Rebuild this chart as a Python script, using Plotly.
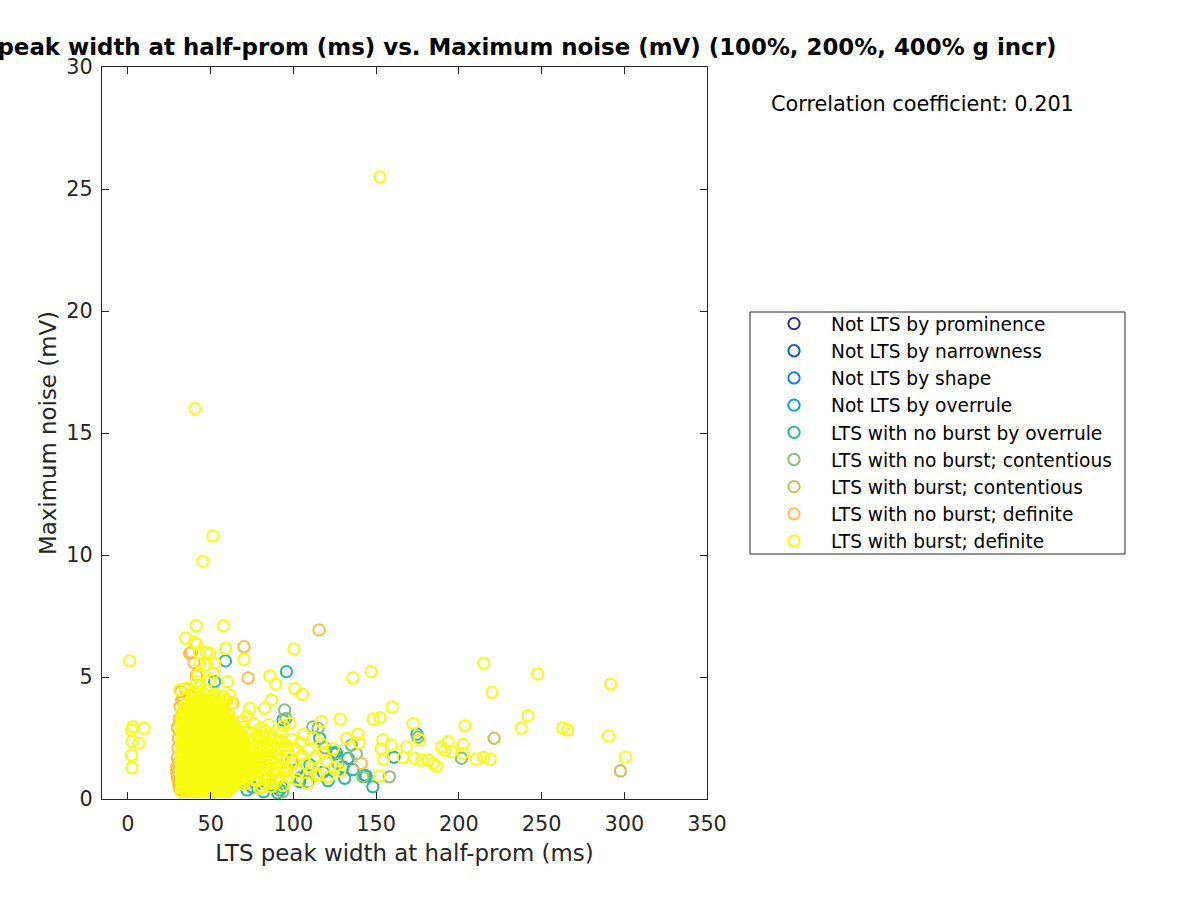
import plotly.graph_objects as go

# ---------------- data ----------------
categories = [
    "Not LTS by prominence",
    "Not LTS by narrowness",
    "Not LTS by shape",
    "Not LTS by overrule",
    "LTS with no burst by overrule",
    "LTS with no burst; contentious",
    "LTS with burst; contentious",
    "LTS with no burst; definite",
    "LTS with burst; definite",
]
colors = ["#352a87", "#0f5cdd", "#1481d6", "#06a4ca", "#2eb7a0",
          "#87bf77", "#d1bb59", "#fcbe3c", "#f9fb0e"]

# Not LTS (hidden inside the dense cluster)
x_prom = [45.0]
y_prom = [1.5]
x_narrow = [50.0]
y_narrow = [1.3]
x_shape = [42.0]
y_shape = [1.0]
x_overrule = [55.0]
y_overrule = [1.9]

# LTS with no burst by overrule
x_nb_over = [58.9, 52.4, 95.8, 93.7, 115.9, 125.0, 130.0, 143.0, 148.0, 103.8,
             91.7, 126.0, 133.0, 131.0, 144.0, 174.7, 160.8, 72.0, 75.0, 90.5,
             93.0, 102.0, 104.0, 124.0, 110.0, 118.0, 121.0, 136.0, 82.0, 86.0]
y_nb_over = [5.66, 4.81, 5.22, 3.24, 2.49, 1.84, 1.32, 0.98, 0.50, 0.71,
             0.37, 1.90, 1.67, 0.85, 0.94, 2.66, 1.71, 0.37, 0.49, 0.25,
             0.50, 1.19, 0.86, 1.89, 1.40, 1.10, 0.75, 1.20, 0.30, 0.55]

# LTS with no burst; contentious
x_nb_cont = [94.7, 114.9, 108.8, 158.0, 142.0, 135.0, 201.6, 175.3, 111.7, 95.5,
             93.5, 99.0, 119.0, 127.0, 138.0]
y_nb_cont = [3.65, 2.90, 0.71, 0.91, 0.91, 2.21, 1.67, 2.53, 2.95, 3.30,
             0.29, 1.60, 2.10, 1.45, 1.85]

# LTS with burst; contentious
x_b_cont = [221.3, 297.7]
y_b_cont = [2.49, 1.15]

# LTS with no burst; definite
x_nb_def = [38.3, 39.9, 70.1, 72.6, 115.5, 37.3, 41.3, 35.0, 37.5, 33.5,
            29.8, 29.5, 29.9, 30.2, 30.5, 30.0, 31.0, 31.5, 32.0, 30.6,
            31.5, 29.6, 30.4, 30.8, 55.5, 63.3, 67.5, 83.7, 141.0, 30.0,
            29.4, 32.5]
y_nb_def = [6.01, 5.59, 6.24, 4.96, 6.93, 5.97, 5.08, 4.50, 4.20, 4.00,
            0.90, 1.30, 1.70, 2.10, 2.50, 2.90, 3.30, 3.80, 4.40, 0.60,
            0.40, 1.05, 1.47, 0.71, 3.93, 3.93, 2.00, 0.78, 1.46, 2.95,
            1.15, 4.05]

# LTS with burst; definite -- dense core of the cluster, one row per noise level
core_levels = [0.30, 0.40, 0.50, 0.60, 0.70, 0.80, 0.90, 1.00, 1.10, 1.20,
               1.30, 1.40, 1.50, 1.60, 1.70, 1.80, 1.90, 2.00, 2.10, 2.20,
               2.30, 2.40, 2.50, 2.60, 2.70, 2.80, 2.90, 3.00, 3.10, 3.20,
               3.30, 3.40, 3.50, 3.60, 3.70, 3.80, 3.90, 4.00, 4.10, 4.30]
core_widths = [
    [32.3, 35.7, 39.1, 42.5, 45.9, 49.3, 52.7, 56.1, 59.5],
    [34.0, 37.4, 40.8, 44.2, 47.6, 51.0, 54.4, 57.8, 61.2],
    [32.3, 35.7, 39.1, 42.5, 45.9, 49.3, 52.7, 56.1, 59.5, 62.9],
    [34.0, 37.4, 40.8, 44.2, 47.6, 51.0, 54.4, 57.8, 61.2, 64.6],
    [32.3, 35.7, 39.1, 42.5, 45.9, 49.3, 52.7, 56.1, 59.5, 62.9, 66.3, 69.7],
    [34.0, 37.4, 40.8, 44.2, 47.6, 51.0, 54.4, 57.8, 61.2, 64.6, 68.0, 71.4],
    [32.3, 35.7, 39.1, 42.5, 45.9, 49.3, 52.7, 56.1, 59.5, 62.9, 66.3, 69.7, 73.1],
    [34.0, 37.4, 40.8, 44.2, 47.6, 51.0, 54.4, 57.8, 61.2, 64.6, 68.0, 71.4, 74.8],
    [32.3, 35.7, 39.1, 42.5, 45.9, 49.3, 52.7, 56.1, 59.5, 62.9, 66.3, 69.7, 73.1, 76.5],
    [34.0, 37.4, 40.8, 44.2, 47.6, 51.0, 54.4, 57.8, 61.2, 64.6, 68.0, 71.4, 74.8],
    [32.3, 35.7, 39.1, 42.5, 45.9, 49.3, 52.7, 56.1, 59.5, 62.9, 66.3, 69.7, 73.1, 76.5],
    [34.0, 37.4, 40.8, 44.2, 47.6, 51.0, 54.4, 57.8, 61.2, 64.6, 68.0, 71.4, 74.8],
    [32.3, 35.7, 39.1, 42.5, 45.9, 49.3, 52.7, 56.1, 59.5, 62.9, 66.3, 69.7, 73.1, 76.5],
    [34.0, 37.4, 40.8, 44.2, 47.6, 51.0, 54.4, 57.8, 61.2, 64.6, 68.0, 71.4, 74.8],
    [32.3, 35.7, 39.1, 42.5, 45.9, 49.3, 52.7, 56.1, 59.5, 62.9, 66.3, 69.7, 73.1],
    [34.0, 37.4, 40.8, 44.2, 47.6, 51.0, 54.4, 57.8, 61.2, 64.6, 68.0, 71.4, 74.8],
    [32.3, 35.7, 39.1, 42.5, 45.9, 49.3, 52.7, 56.1, 59.5, 62.9, 66.3, 69.7, 73.1],
    [34.0, 37.4, 40.8, 44.2, 47.6, 51.0, 54.4, 57.8, 61.2, 64.6, 68.0, 71.4],
    [32.3, 35.7, 39.1, 42.5, 45.9, 49.3, 52.7, 56.1, 59.5, 62.9, 66.3, 69.7],
    [34.0, 37.4, 40.8, 44.2, 47.6, 51.0, 54.4, 57.8, 61.2, 64.6, 68.0, 71.4],
    [32.3, 35.7, 39.1, 42.5, 45.9, 49.3, 52.7, 56.1, 59.5, 62.9, 66.3, 69.7],
    [34.0, 37.4, 40.8, 44.2, 47.6, 51.0, 54.4, 57.8, 61.2, 64.6, 68.0],
    [32.3, 35.7, 39.1, 42.5, 45.9, 49.3, 52.7, 56.1, 59.5, 62.9, 66.3],
    [34.0, 37.4, 40.8, 44.2, 47.6, 51.0, 54.4, 57.8, 61.2, 64.6, 68.0],
    [32.3, 35.7, 39.1, 42.5, 45.9, 49.3, 52.7, 56.1, 59.5, 62.9, 66.3],
    [34.0, 37.4, 40.8, 44.2, 47.6, 51.0, 54.4, 57.8, 61.2, 64.6],
    [32.3, 35.7, 39.1, 42.5, 45.9, 49.3, 52.7, 56.1, 59.5, 62.9],
    [34.0, 37.4, 40.8, 44.2, 47.6, 51.0, 54.4, 57.8, 61.2, 64.6],
    [32.3, 35.7, 39.1, 42.5, 45.9, 49.3, 52.7, 56.1, 59.5, 62.9],
    [34.0, 37.4, 40.8, 44.2, 47.6, 51.0, 54.4, 57.8, 61.2],
    [32.3, 35.7, 39.1, 42.5, 45.9, 49.3, 52.7, 56.1, 59.5],
    [34.0, 37.4, 40.8, 44.2, 47.6, 51.0, 54.4, 57.8, 61.2],
    [32.3, 35.7, 39.1, 42.5, 45.9, 49.3, 52.7, 56.1, 59.5],
    [34.0, 37.4, 40.8, 44.2, 47.6, 51.0, 54.4, 57.8],
    [35.7, 39.1, 42.5, 45.9, 49.3, 52.7, 56.1],
    [34.0, 37.4, 40.8, 44.2, 47.6, 51.0, 54.4, 57.8],
    [35.7, 39.1, 42.5, 45.9, 49.3, 52.7, 56.1],
    [37.4, 40.8, 44.2, 47.6, 51.0, 54.4],
    [39.1, 42.5, 45.9, 49.3, 52.7],
    [39.1, 45.9, 52.7],
]

# LTS with burst; definite -- spread-out tail of the cluster
x_tail = [79.5, 83.0, 86.5, 90.0, 93.5, 97.0, 81.0, 84.5, 88.0, 91.5,
          95.0, 98.5, 78.5, 82.0, 86.0, 89.5, 93.0, 96.5, 100.0, 80.0,
          84.0, 88.0, 92.0, 96.0, 101.0, 105.0, 78.0, 83.0, 87.5, 92.0,
          99.0, 104.0, 109.0, 113.0, 118.0, 103.0, 107.0, 111.0, 115.0, 120.0,
          125.0, 102.0, 108.0, 114.0, 121.0, 128.0, 106.0, 112.0, 117.0, 124.0,
          94.0, 98.0,
          70.0, 73.0, 76.0, 79.0, 82.0, 85.0, 70.0, 76.0, 78.0, 81.0,
          84.0, 87.0, 90.0, 71.0, 74.0, 77.0, 80.0, 83.0, 86.0, 89.0,
          92.0, 75.0, 78.0, 81.0, 84.0, 87.0, 90.0, 93.0, 96.0, 69.0,
          72.0, 76.0, 80.0, 85.0, 89.0]
y_tail = [0.45, 0.60, 0.50, 0.75, 0.55, 0.90, 1.00, 1.20, 1.05, 1.35,
          1.15, 1.40, 1.60, 1.75, 1.55, 1.85, 1.65, 1.95, 1.50, 2.10,
          2.30, 2.15, 2.40, 2.20, 2.05, 1.80, 2.60, 2.80, 2.55, 2.70,
          2.45, 2.30, 2.00, 1.70, 1.90, 1.10, 1.45, 1.25, 0.95, 1.55,
          1.30, 0.80, 0.65, 1.05, 0.90, 1.15, 2.65, 2.50, 2.25, 2.05,
          3.00, 3.10,
          2.95, 2.75, 2.50, 2.35, 2.15, 1.95, 0.60, 0.80, 0.75, 0.50,
          0.85, 0.65, 1.10, 1.25, 1.45, 1.65, 1.30, 1.50, 1.70, 1.25,
          0.90, 2.00, 1.85, 2.55, 2.05, 2.25, 1.60, 2.10, 1.25, 3.20,
          3.40, 3.10, 2.90, 3.05, 2.45]

# LTS with burst; definite -- upper column and scattered points
x_scatter = [152.2, 40.5, 51.3, 45.2, 1.0,
             3.0, 9.7, 2.1, 2.4, 6.5, 2.1, 2.4,
             215.0, 247.6, 291.8, 220.0, 147.0, 135.8, 159.6, 148.2, 152.2, 128.2,
             172.3, 203.6, 241.7, 237.8, 262.7, 265.7, 290.5, 300.8, 202.5, 202.5,
             189.5, 193.5, 191.5, 195.5, 210.6, 215.0, 219.0, 176.4, 154.0, 153.0,
             159.0, 154.6, 166.3, 168.3, 173.3, 177.4, 181.4, 184.4, 186.5, 152.0,
             132.0, 139.7, 139.0, 116.9, 100.4, 100.8, 105.4, 89.3, 85.7, 86.7,
             82.6, 73.6, 70.0, 60.1,
             41.3, 57.7, 34.9, 40.3, 41.3, 58.9, 43.3, 47.4, 49.4, 43.3,
             47.4, 51.4, 42.3, 52.4, 31.3, 35.3, 39.3, 43.3, 47.4, 51.4,
             57.4, 61.5, 41.3, 49.4, 59.5, 62.5]
y_scatter = [25.50, 16.00, 10.78, 9.75, 5.66,
             2.96, 2.90, 2.83, 2.35, 2.28, 1.80, 1.28,
             5.57, 5.12, 4.71, 4.37, 5.22, 4.96, 3.77, 3.27, 3.33, 3.27,
             3.09, 3.00, 3.41, 2.91, 2.91, 2.83, 2.58, 1.72, 2.24, 1.87,
             2.14, 2.35, 2.00, 1.94, 1.63, 1.71, 1.63, 2.42, 2.42, 2.05,
             2.21, 1.64, 1.71, 2.14, 1.67, 1.60, 1.60, 1.46, 1.35, 0.94,
             2.49, 2.31, 2.66, 3.17, 6.15, 4.53, 4.29, 4.71, 5.04, 4.06,
             3.72, 3.72, 5.72, 4.81,
             7.10, 7.10, 6.59, 6.42, 6.35, 6.17, 5.97, 6.01, 5.97, 5.56,
             5.49, 5.15, 5.08, 5.57, 4.47, 4.54, 4.40, 4.60, 4.47, 4.26,
             4.19, 4.26, 4.81, 4.88, 4.06, 3.92]

x_ticks = [0, 50, 100, 150, 200, 250, 300, 350]
y_ticks = [0, 5, 10, 15, 20, 25, 30]
corr_text = "Correlation coefficient: 0.201"

# assemble burst-definite series from its parts
x_core, y_core = [], []
for lvl, row in zip(core_levels, core_widths):
    x_core.extend(row)
    y_core.extend([lvl] * len(row))
x_b_def = x_scatter + x_tail + x_core
y_b_def = y_scatter + y_tail + y_core

series = [(x_prom, y_prom), (x_narrow, y_narrow), (x_shape, y_shape),
          (x_overrule, y_overrule), (x_nb_over, y_nb_over), (x_nb_cont, y_nb_cont),
          (x_b_cont, y_b_cont), (x_nb_def, y_nb_def), (x_b_def, y_b_def)]

# ---------------- figure ----------------
W, H = 1200, 900
PL, PR, PT, PB = 102, 707, 67, 799  # plot area pixels
FONT = "DejaVu Sans"
AX = "#262626"

fig = go.Figure()
for i, (name, col, (xs, ys)) in enumerate(zip(categories, colors, series)):
    fig.add_trace(go.Scatter(
        x=xs, y=ys, mode="markers", name=name, legendgroup=f"g{i}",
        marker=dict(symbol="circle-open", size=11.3, color=col,
                    line=dict(width=2, color=col)),
    ))

def px_x(p):
    return (p - PL) / (PR - PL)

def px_y(p):
    return (PB - p) / (PB - PT)

LEG_FONT = 18.6
fig.update_layout(
    width=W, height=H,
    margin=dict(l=PL, r=W - PR, t=PT, b=H - PB, pad=0),
    paper_bgcolor="white", plot_bgcolor="white",
    font=dict(family=FONT, color=AX),
    title=dict(text="<b>LTS peak width at half-prom (ms) vs. Maximum noise (mV) (100%, 200%, 400% g incr)</b>",
               xref="container", yref="container", x=501.5 / W, xanchor="center",
               y=1 - 47 / H, yanchor="middle",
               font=dict(family=FONT, size=22.9, color="black")),
    xaxis=dict(range=[-15.7, 350], tickvals=x_ticks, ticks="inside", ticklen=7,
               tickcolor=AX, showline=True, linecolor=AX, linewidth=1, mirror="ticks",
               showgrid=False, zeroline=False, automargin=False, ticklabelstandoff=6,
               tickfont=dict(family=FONT, size=20.8, color=AX),
               title=dict(text="LTS peak width at half-prom (ms)", standoff=10,
                          font=dict(family=FONT, size=22.9, color=AX))),
    yaxis=dict(range=[0, 30], tickvals=y_ticks, ticks="inside", ticklen=7,
               tickcolor=AX, showline=True, linecolor=AX, linewidth=1, mirror="ticks",
               showgrid=False, zeroline=False, automargin=False, ticklabelstandoff=4,
               tickfont=dict(family=FONT, size=20.8, color=AX),
               title=dict(text="Maximum noise (mV)", standoff=3,
                          font=dict(family=FONT, size=22.9, color=AX))),
    legend=dict(xref="container", yref="container", x=(794 - 37) / W, y=1 - 305 / H,
                xanchor="left", yanchor="top", itemwidth=64, tracegroupgap=0,
                bgcolor="rgba(0,0,0,0)", borderwidth=0, traceorder="normal",
                font=dict(family=FONT, size=LEG_FONT, color="black")),
    shapes=[dict(type="rect", xref="paper", yref="paper",
                 x0=px_x(750), x1=px_x(1125), y0=px_y(554), y1=px_y(312),
                 line=dict(color=AX, width=1), fillcolor="rgba(0,0,0,0)")],
    annotations=[dict(text=corr_text, xref="paper", yref="paper",
                      x=px_x(769), y=px_y(104), xanchor="left", yanchor="middle",
                      showarrow=False, font=dict(family=FONT, size=20.8, color="black"))],
    showlegend=True,
)

fig.write_html("out.html")
